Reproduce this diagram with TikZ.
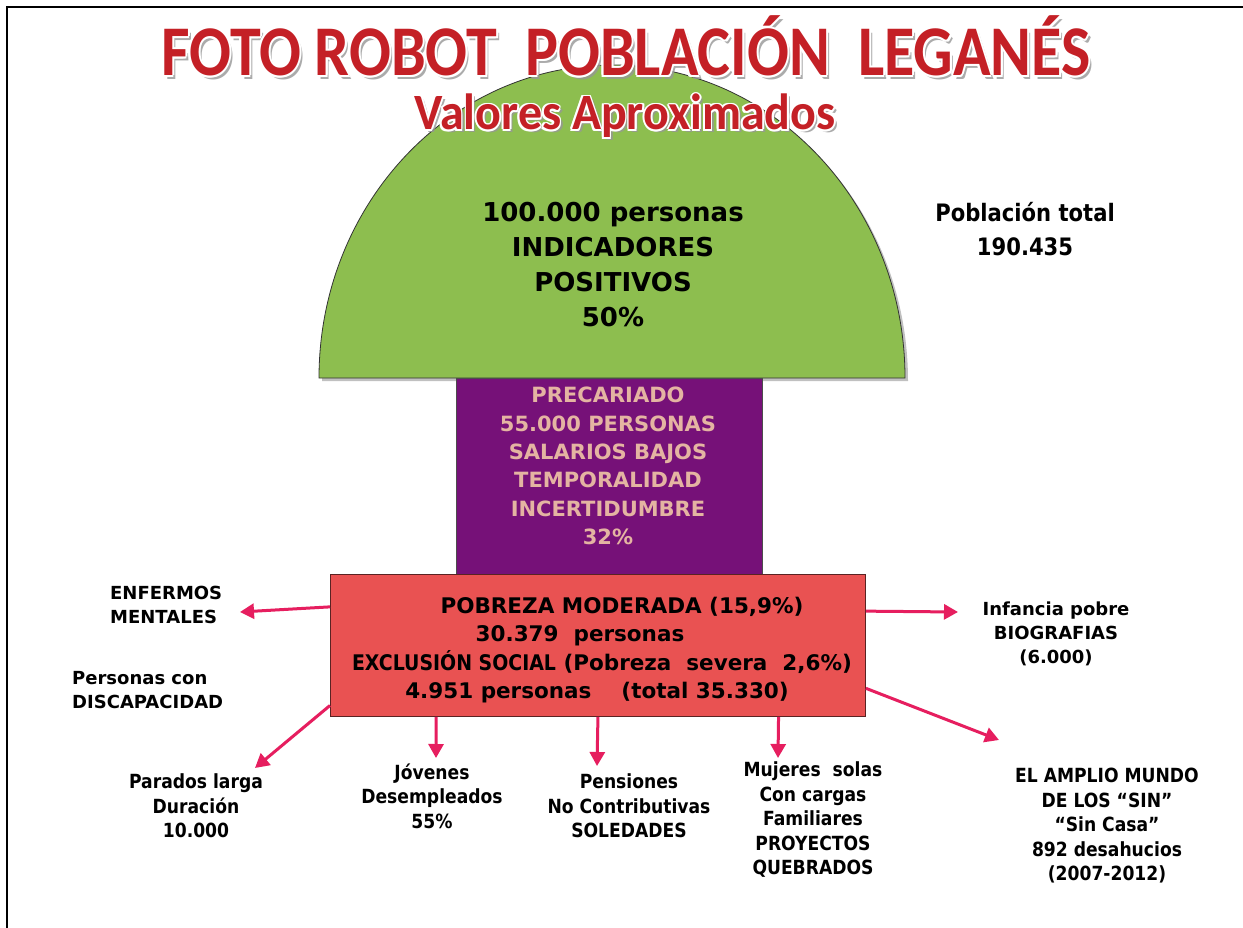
\documentclass[tikz,border=0pt]{standalone}
\usepackage{fontspec}
\setmainfont{DejaVu Sans}
\newfontfamily\tah{DejaVu Sans}[FakeStretch=0.88]
\newfontfamily\calib{Carlito}
\usepackage{graphicx}
\usetikzlibrary{arrows.meta,calc}
\definecolor{greenf}{RGB}{141,190,79}
\definecolor{purplef}{RGB}{118,17,120}
\definecolor{purpletxt}{RGB}{228,180,162}
\definecolor{redf}{RGB}{233,82,82}
\definecolor{redline}{RGB}{90,35,35}
\definecolor{arrowc}{RGB}{230,30,95}
\definecolor{titlered}{RGB}{196,32,38}
\definecolor{shadowg}{RGB}{150,150,150}
\newcommand\TitleA{\scalebox{1}[1.15]{\calib\bfseries\fontsize{62}{62}\selectfont FOTO ROBOT\ \ POBLACIÓN\ \ LEGANÉS}}
\newcommand\TitleB{\scalebox{1}[1.06]{\calib\bfseries\fontsize{48}{48}\selectfont Valores Aproximados}}
\begin{document}
\begin{tikzpicture}[x=1pt,y=-1pt,
  lbl/.style={align=center,inner sep=0pt,text=black},
  big/.style={lbl,font=\bfseries\fontsize{26}{35}\selectfont},
  mid/.style={lbl,font=\bfseries\fontsize{21.5}{28.5}\selectfont},
  side/.style={lbl,font=\bfseries\fontsize{18}{24}\selectfont},
  bot/.style={lbl,font=\tah\bfseries\fontsize{19.5}{24.5}\selectfont},
  arr/.style={draw=arrowc,line width=3pt,-{Triangle[length=14pt,width=15pt]}}]
\useasboundingbox (0,0) rectangle (1243,928);
\fill[white] (0,0) rectangle (1243,928);
% frame
\draw[line width=2.6pt] (7,930) -- (7,7) -- (1245,7);
% green half dome
\fill[shadowg!60] (322,381) arc[start angle=180,end angle=360,x radius=293,y radius=313] -- cycle;
\draw[fill=greenf,draw=black!80,line width=0.8pt] (319,378) arc[start angle=180,end angle=360,x radius=293,y radius=313] -- cycle;
% boxes
\node[draw=black!70,fill=purplef,line width=0.8pt,minimum width=306pt,minimum height=197pt,inner sep=0pt,anchor=north west] (prec) at (456,378) {};
\node[draw=redline,fill=redf,line width=0.9pt,minimum width=535pt,minimum height=142pt,inner sep=0pt,anchor=north west] (pob) at (330,574) {};
% title
\node[anchor=base,text=shadowg,opacity=0.8] (tsh) at (629,80) {\TitleA};
\foreach \dx/\dy [count=\i] in {-2/0,2/0,0/-2,0/2,-1.5/-1.5,1.5/1.5,-1.5/1.5,1.5/-1.5}
  \node[anchor=base,text=white] (tw\i) at (626+\dx,76+\dy) {\TitleA};
\node[anchor=base,text=titlered] (title) at (626,76) {\TitleA};
\node[anchor=base,text=shadowg,opacity=0.8] (ssh) at (628,133) {\TitleB};
\foreach \dx/\dy [count=\i] in {-1.8/0,1.8/0,0/-1.8,0/1.8,-1.3/-1.3,1.3/1.3,-1.3/1.3,1.3/-1.3}
  \node[anchor=base,text=white] (sw\i) at (625+\dx,130+\dy) {\TitleB};
\node[anchor=base,text=titlered] (subtitle) at (625,130) {\TitleB};
% texts
\node[big] (pos) at (613,265) {100.000 personas\\INDICADORES\\POSITIVOS\\50\%};
\node[lbl,font=\tah\bfseries\fontsize{24}{34}\selectfont] (total) at (1025,229) {Población total\\190.435};
\node[mid,text=purpletxt,font=\bfseries\fontsize{21}{28.3}\selectfont] (prectxt) at (608,466) {PRECARIADO\\55.000 PERSONAS\\SALARIOS BAJOS\\TEMPORALIDAD\\INCERTIDUMBRE\\32\%};
\node[mid,anchor=base] (p1) at (622,613) {POBREZA MODERADA (15,9\%)};
\node[mid,anchor=base] (p2) at (580,641) {30.379\ \ personas};
\node[mid,anchor=base] (p3) at (602,670) {{\tah EXCLUSIÓN SOCIAL} (Pobreza\ \ severa\ \ 2,6\%)};
\node[mid,anchor=base] (p4) at (597,698) {4.951 personas\ \ \ \ (total 35.330)};
\node[side,align=left,anchor=west] (enf) at (110,605) {ENFERMOS\\MENTALES};
\node[side,align=left,anchor=west] (disc) at (72,690) {Personas con\\DISCAPACIDAD};
\node[side] (inf) at (1056,634) {Infancia pobre\\BIOGRAFIAS\\(6.000)};
\node[bot] (par) at (196,806) {Parados larga\\Duración\\10.000};
\node[bot] (jov) at (432,796) {Jóvenes\\Desempleados\\55\%};
\node[bot] (pen) at (629,806) {Pensiones\\No Contributivas\\SOLEDADES};
\node[bot] (muj) at (813,820) {Mujeres\ \ solas\\Con cargas\\Familiares\\PROYECTOS\\QUEBRADOS};
\node[bot] (sin) at (1107,826) {EL AMPLIO MUNDO\\DE LOS “SIN”\\“Sin Casa”\\892 desahucios\\(2007-2012)};
% arrow end points
\coordinate (tEnf) at (240,612);
\coordinate (tInf) at (958,612);
\coordinate (tPar) at (255,768);
\coordinate (tJov) at (436,758);
\coordinate (tPen) at (597,766);
\coordinate (tMuj) at (778,758);
\coordinate (tSin) at (999,740);
\draw[arr] ($(pob.north west)!0.23!(pob.south west)$) -- (tEnf);
\draw[arr] ($(pob.north east)!0.26!(pob.south east)$) -- (tInf);
\draw[arr] ($(pob.north west)!0.92!(pob.south west)$) -- (tPar);
\draw[arr] ($(pob.south west)!0.198!(pob.south east)$) -- (tJov);
\draw[arr] ($(pob.south west)!0.5!(pob.south east)$) -- (tPen);
\draw[arr] ($(pob.south west)!0.837!(pob.south east)$) -- (tMuj);
\draw[arr] ($(pob.north east)!0.80!(pob.south east)$) -- (tSin);
\end{tikzpicture}
\end{document}
